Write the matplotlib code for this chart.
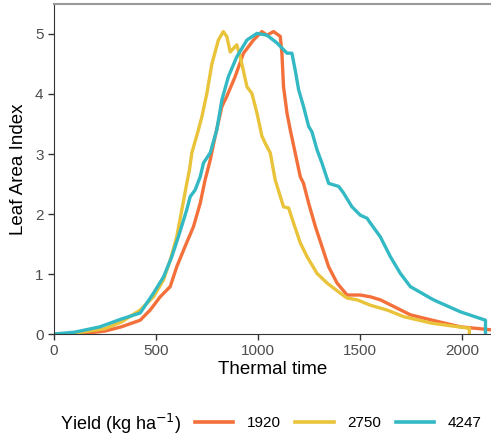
import matplotlib.pyplot as plt
from matplotlib.lines import Line2D

plt.rcParams['font.family'] = ['Liberation Sans', 'DejaVu Sans']

# thermal time / LAI
t_1920 = [0, 150, 250, 330, 422, 471, 520, 569, 601, 642, 683, 716, 740, 765, 789, 822, 846,
          887, 928, 977, 1018, 1043, 1075, 1108, 1116, 1124, 1141, 1157, 1181, 1206, 1222, 1247,
          1280, 1312, 1345, 1386, 1435, 1500, 1549, 1598, 1663, 1745, 1828, 1990, 2140]
lai_1920 = [0, 0.01, 0.05, 0.12, 0.23, 0.4, 0.62, 0.79, 1.12, 1.46, 1.79, 2.18, 2.57, 2.9, 3.29,
            3.79, 3.96, 4.29, 4.68, 4.9, 5.04, 4.98, 5.04, 4.96, 4.68, 4.12, 3.68, 3.4, 3.02, 2.62,
            2.51, 2.18, 1.79, 1.46, 1.12, 0.85, 0.65, 0.65, 0.62, 0.57, 0.46, 0.32, 0.25, 0.12, 0.07]

t_2750 = [0, 93, 250, 330, 422, 487, 536, 569, 601, 626, 650, 663, 675, 707, 724, 748, 773, 805,
          829, 846, 863, 895, 912, 945, 969, 994, 1018, 1034, 1059, 1083, 1124, 1149, 1173, 1206,
          1239, 1288, 1337, 1402, 1435, 1484, 1549, 1631, 1712, 1850, 2024, 2034, 2034]
lai_2750 = [0, 0.01, 0.09, 0.2, 0.4, 0.62, 0.9, 1.23, 1.62, 2.07, 2.51, 2.73, 3.02, 3.4, 3.62, 4.0,
            4.5, 4.9, 5.04, 4.96, 4.7, 4.82, 4.62, 4.12, 4.01, 3.68, 3.3, 3.18, 3.02, 2.57, 2.12,
            2.1, 1.85, 1.52, 1.29, 1.01, 0.85, 0.68, 0.6, 0.57, 0.48, 0.4, 0.29, 0.18, 0.1, 0.1, 0]

t_4247 = [0, 100, 225, 330, 422, 487, 536, 577, 609, 650, 667, 691, 716, 732, 765, 797, 822, 854,
          895, 945, 994, 1043, 1092, 1141, 1165, 1181, 1198, 1222, 1247, 1263, 1288, 1312, 1345,
          1394, 1418, 1459, 1500, 1533, 1549, 1598, 1647, 1696, 1745, 1858, 1990, 2113, 2113]
lai_4247 = [0, 0.03, 0.12, 0.25, 0.35, 0.68, 0.95, 1.29, 1.62, 2.07, 2.29, 2.4, 2.62, 2.85, 3.02,
            3.4, 3.9, 4.29, 4.62, 4.9, 5.01, 4.98, 4.85, 4.68, 4.68, 4.4, 4.07, 3.79, 3.46, 3.37,
            3.07, 2.85, 2.51, 2.46, 2.35, 2.12, 1.98, 1.93, 1.85, 1.62, 1.29, 1.01, 0.79, 0.57,
            0.37, 0.23, 0]

yields = ['1920', '2750', '4247']
colors = ['#F4703A', '#E9C33A', '#33B9C4']

fig = plt.figure(figsize=(4.91, 4.38), dpi=100)
ax = fig.add_axes([0.110, 0.2374, 0.89, 0.7535])

for t, lai, c in zip([t_1920, t_2750, t_4247], [lai_1920, lai_2750, lai_4247], colors):
    ax.plot(t, lai, color=c, lw=2.4, solid_joinstyle='round')

ax.set_xlim(0, 2140)
ax.set_ylim(0, 5.5)
ax.set_xticks([0, 500, 1000, 1500, 2000])
ax.set_yticks([0, 1, 2, 3, 4, 5])
ax.tick_params(colors='#333333', labelcolor='#4d4d4d', labelsize=11, length=4, width=1)
for s in ['left', 'bottom']:
    ax.spines[s].set_color('#333333')
ax.spines['top'].set_color('#999999')
ax.spines['top'].set_linewidth(1.5)
ax.spines['right'].set_visible(False)

ax.set_xlabel('Thermal time', fontsize=13.5, labelpad=2)
ax.set_ylabel('Leaf Area Index', fontsize=13.5, labelpad=6)

handles = [Line2D([], [], color=c, lw=2.6) for c in colors]
fig.text(0.122, 0.032, 'Yield (kg ha$^{-1}$)', fontsize=13, va='center')
fig.legend(handles, yields, loc='center left', bbox_to_anchor=(0.397, 0.034), ncol=3,
           frameon=False, fontsize=11, handlelength=2.5, columnspacing=0.95, handletextpad=0.9,
           borderpad=0, borderaxespad=0)

fig.savefig('out.png', dpi=100)
